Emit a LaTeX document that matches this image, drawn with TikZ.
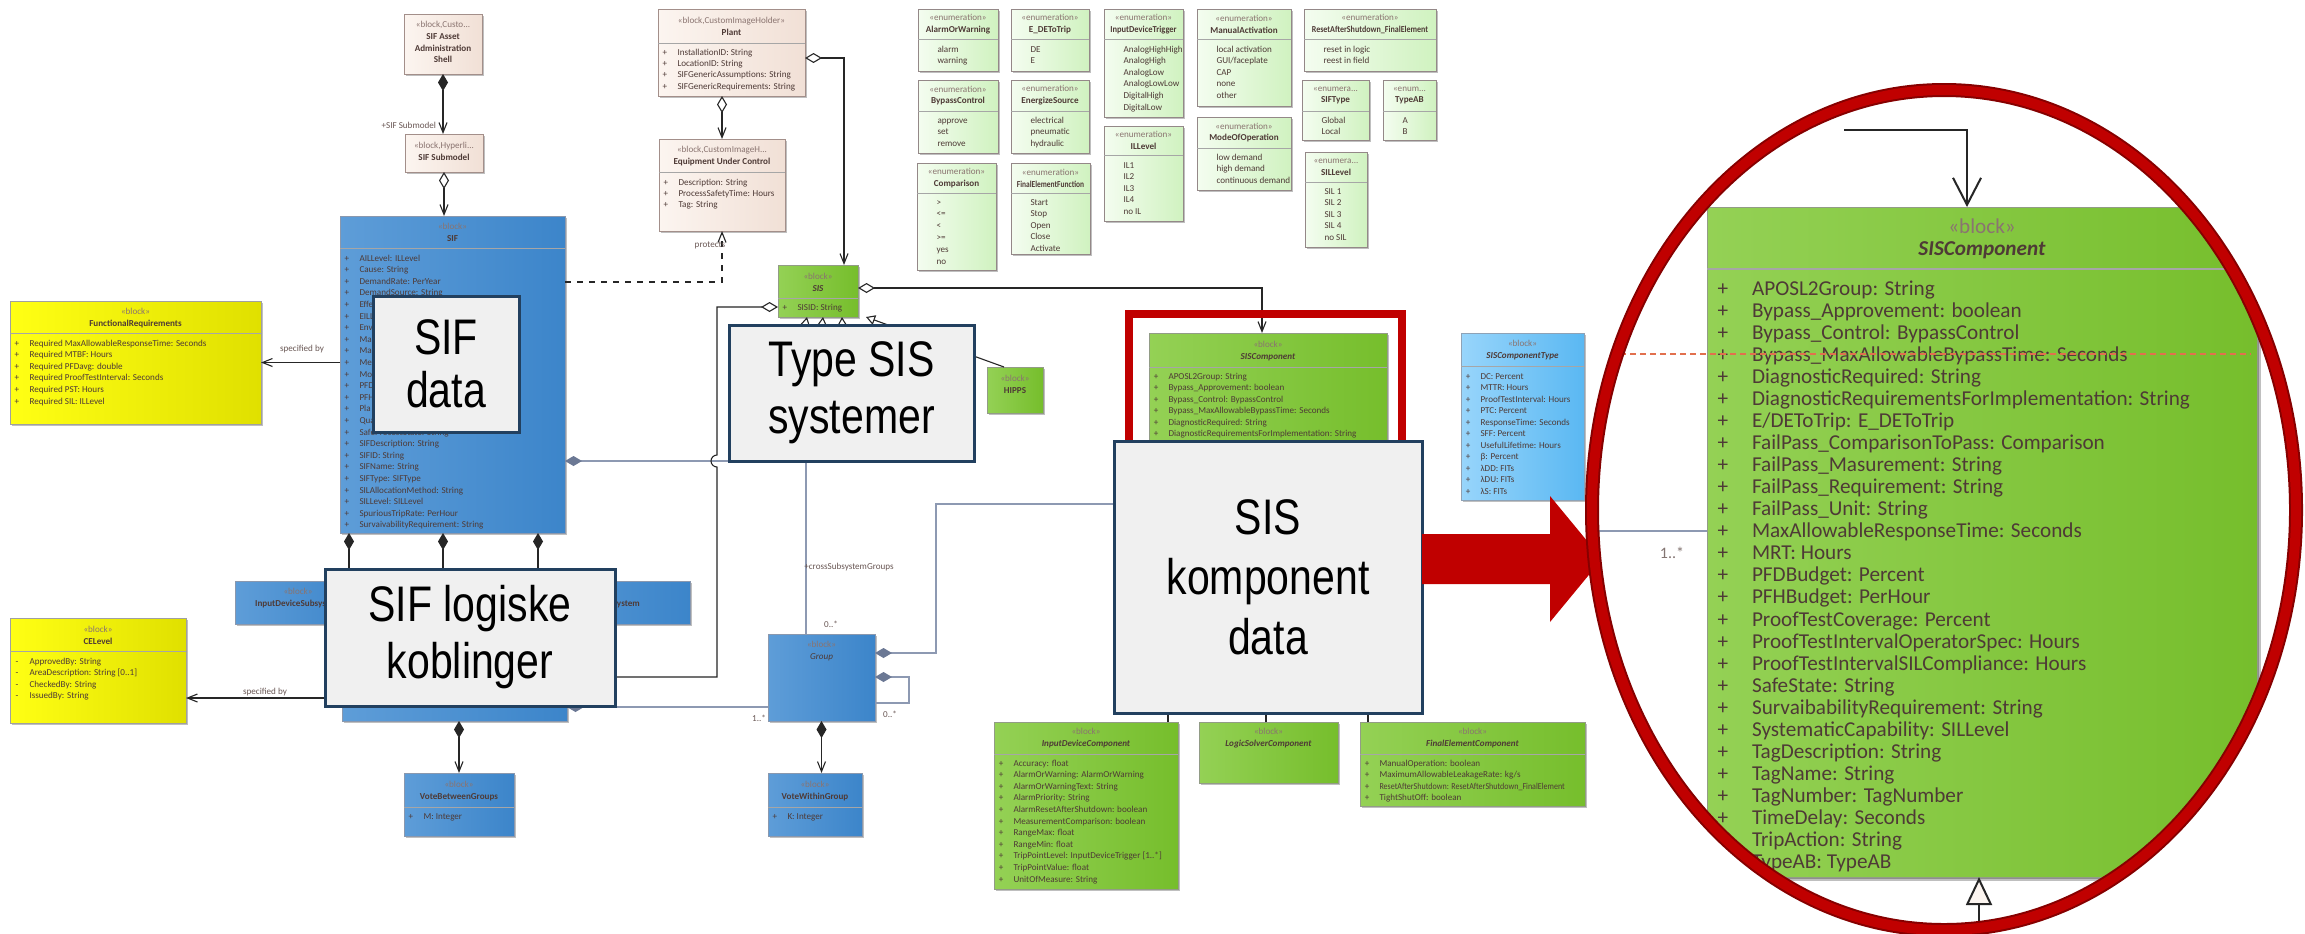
\documentclass[tikz,border=0pt]{standalone}
\usepackage{fontspec}
\setmainfont{Carlito}
\newfontfamily\narrowfont[FakeStretch=0.82]{Liberation Sans}
\usetikzlibrary{fit,calc,arrows.meta,shadows}

\definecolor{beigeL}{HTML}{FCF5F0}
\definecolor{beigeR}{HTML}{F1E0D6}
\definecolor{beigeB}{HTML}{A38F8A}
\definecolor{blueL}{HTML}{5E9DD8}
\definecolor{blueR}{HTML}{3C85CA}
\definecolor{blueB}{HTML}{8A98AE}
\definecolor{greenL}{HTML}{94D155}
\definecolor{greenR}{HTML}{76BE2C}
\definecolor{greenB}{HTML}{929C86}
\definecolor{lgreenL}{HTML}{F4FDF0}
\definecolor{lgreenR}{HTML}{D0F2C0}
\definecolor{lgreenB}{HTML}{948888}
\definecolor{yellowL}{HTML}{FFFF14}
\definecolor{yellowR}{HTML}{E0E000}
\definecolor{yellowB}{HTML}{A0A0A0}
\definecolor{lblueL}{HTML}{98D5FB}
\definecolor{lblueR}{HTML}{5AB8F2}
\definecolor{lblueB}{HTML}{8EA2B6}
\definecolor{txt}{HTML}{4E3A36}
\definecolor{stereo}{HTML}{8A7470}
\definecolor{assoc}{HTML}{8D99B2}
\definecolor{partd}{HTML}{6B7894}
\definecolor{navy}{HTML}{22405F}
\definecolor{calloutfill}{HTML}{F0F0F0}
\definecolor{alert}{HTML}{C00000}
\definecolor{alertdark}{HTML}{860000}
\definecolor{guide}{HTML}{E2704E}

\newcommand\ufont{\fontsize{4.55pt}{5.9pt}\selectfont}
\newcommand\zfont{\fontsize{10.6pt}{11pt}\selectfont}
\newcommand\calloutfont{\narrowfont\fontsize{25pt}{28.5pt}\selectfont}

% block: look, name, x1, y1, x2, y2, header centre y, stereotype, title
\newcommand\umlbox[9]{%
  \node[fit={(#3,#4)(#5,#6)}, #1] (#2) {};
  \node[hdr] (#2-h) at ({(#3+#5)/2},#7) {{\color{stereo}#8}\\#9};
}
% compartment: name, x1, x2, separator y, first row y, row step, marker, rows
\newcommand\attrs[8]{%
  \draw[sepline] (#2,#4) -- (#3,#4);
  \foreach \row [count=\i] in {#8} {
    \node[attr, anchor=base] (#1-m\i) at (#2+7, {#5+(\i-1)*#6+3}) {#7};
    \node[attr, anchor=base west] (#1-a\i) at (#2+19.5, {#5+(\i-1)*#6+3}) {\row};
  }
}

\begin{document}
\begin{tikzpicture}[x=0.5pt, y=-0.5pt,
  every node/.style={inner sep=0pt, outer sep=0pt},
  shadowed/.style={drop shadow={shadow xshift=1.1pt, shadow yshift=-1.1pt, opacity=0.25, fill=black}},
  beigeblock/.style={left color=beigeL, right color=beigeR, draw=beigeB, line width=0.5pt, shadowed},
  blueblock/.style={left color=blueL, right color=blueR, draw=blueB, line width=0.5pt, shadowed},
  greenblock/.style={left color=greenL, right color=greenR, draw=greenB, line width=0.5pt, shadowed},
  enumblock/.style={left color=lgreenL, right color=lgreenR, draw=lgreenB, line width=0.5pt, shadowed},
  yellowblock/.style={left color=yellowL, right color=yellowR, draw=yellowB, line width=0.5pt, shadowed},
  lblueblock/.style={left color=lblueL, right color=lblueR, draw=lblueB, line width=0.5pt, shadowed},
  hdr/.style={align=center, font=\ufont, text=txt},
  attr/.style={font=\ufont, text=txt},
  lbl/.style={font=\ufont, text=txt!85},
  sepline/.style={draw=black!35, line width=0.5pt},
  line/.style={draw=black!85, line width=0.55pt},
  assocline/.style={draw=assoc, line width=0.6pt},
  comp/.style={{Diamond[length=8.5pt,width=5pt]}-{Straight Barb[length=5pt,width=4pt]}},
  agg/.style={{Diamond[length=8.5pt,width=5pt,fill=white]}-{Straight Barb[length=5pt,width=4pt]}},
  aggonly/.style={{Diamond[length=8.5pt,width=5pt,fill=white]}-},
  partstart/.style={{Diamond[length=8.5pt,width=5pt,color=partd]}-},
  nav/.style={-{Straight Barb[length=5pt,width=4pt]}},
  gen/.style={-{Triangle[length=4.5pt,width=5pt,fill=white]}},
  callout/.style={fill=calloutfill, draw=navy, line width=1.5pt},
  callouttext/.style={font=\calloutfont, align=center, text=black}]

\fill[white] (0,0) rectangle (2305,933);
\useasboundingbox (0,0) rectangle (2305,933);

% ---------- asset shell, plant and equipment ----------
\umlbox{beigeblock}{aas}{404}{14}{482}{74}{42}{«block,Custo...}{\textbf{SIF Asset}\\\textbf{Administration}\\\textbf{Shell}}
\umlbox{beigeblock}{submodel}{405}{134}{483}{172}{151}{«block,Hyperli...}{\textbf{SIF Submodel}}
\umlbox{beigeblock}{plant}{658}{9}{805}{96}{26}{«block,CustomImageHolder»}{\textbf{Plant}}
\attrs{plant}{658}{805}{43}{52}{11.4}{+}{InstallationID: String, LocationID: String, SIFGenericAssumptions: String, SIFGenericRequirements: String}
\umlbox{beigeblock}{euc}{659}{139}{785}{231}{156}{«block,CustomImageH...}{\textbf{Equipment Under Control}}
\attrs{euc}{659}{785}{172}{182}{11.2}{+}{Description: String, ProcessSafetyTime: Hours, Tag: String}

% ---------- enumerations ----------
\umlbox{enumblock}{aow}{918}{9}{998}{71}{24}{«enumeration»}{\textbf{AlarmOrWarning}}
\attrs{aow}{918}{998}{39}{49}{11.8}{}{alarm, warning}
\umlbox{enumblock}{dtt}{1011}{9}{1089}{71}{24}{«enumeration»}{\textbf{E\_DEToTrip}}
\attrs{dtt}{1011}{1089}{39}{49}{11.8}{}{DE, E}
\umlbox{enumblock}{idt}{1104}{9}{1183}{117}{24}{«enumeration»}{\scalebox{0.93}[1]{\textbf{InputDeviceTrigger}}}
\attrs{idt}{1104}{1183}{39}{49}{11.6}{}{AnalogHighHigh, AnalogHigh, AnalogLow, AnalogLowLow, DigitalHigh, DigitalLow}
\umlbox{enumblock}{ma}{1197}{9}{1291}{106}{24}{«enumeration»}{\textbf{ManualActivation}}
\attrs{ma}{1197}{1291}{39}{49}{11.6}{}{local activation, GUI/faceplate, CAP, none, other}
\umlbox{enumblock}{ras}{1304}{9}{1436}{71}{24}{«enumeration»}{\scalebox{0.88}[1]{\textbf{ResetAfterShutdown\_FinalElement}}}
\attrs{ras}{1304}{1436}{39}{49}{11.8}{}{reset in logic, reest in field}
\umlbox{enumblock}{bc}{918}{80}{998}{153}{95.5}{«enumeration»}{\textbf{BypassControl}}
\attrs{bc}{918}{998}{111}{120}{11.5}{}{approve, set, remove}
\umlbox{enumblock}{es}{1011}{80}{1089}{153}{95.5}{«enumeration»}{\textbf{EnergizeSource}}
\attrs{es}{1011}{1089}{111}{120}{11.5}{}{electrical, pneumatic, hydraulic}
\umlbox{enumblock}{sift}{1302}{80}{1369}{140}{95.5}{«enumera...}{\textbf{SIFType}}
\attrs{sift}{1302}{1369}{111}{120}{11.5}{}{Global, Local}
\umlbox{enumblock}{tab}{1383}{80}{1436}{140}{95.5}{«enum...}{\textbf{TypeAB}}
\attrs{tab}{1383}{1436}{111}{120}{11.5}{}{A, B}
\umlbox{enumblock}{cmp}{917}{163}{996}{270}{178}{«enumeration»}{\textbf{Comparison}}
\attrs{cmp}{917}{996}{193}{202}{11.8}{}{>, <=, <, >=, yes, no}
\umlbox{enumblock}{fef}{1011}{163}{1090}{254}{178}{«enumeration»}{\scalebox{0.82}[1]{\textbf{FinalElementFunction}}}
\attrs{fef}{1011}{1090}{193}{202}{11.6}{}{Start, Stop, Open, Close, Activate}
\umlbox{enumblock}{ill}{1104}{126}{1183}{221}{140.5}{«enumeration»}{\textbf{ILLevel}}
\attrs{ill}{1104}{1183}{155}{165}{11.6}{}{IL1, IL2, IL3, IL4, no IL}
\umlbox{enumblock}{moo}{1197}{117}{1291}{190}{132.5}{«enumeration»}{\textbf{ModeOfOperation}}
\attrs{moo}{1197}{1291}{148}{157}{11.5}{}{low demand, high demand, continuous demand}
\umlbox{enumblock}{sill}{1305}{152}{1367}{247}{167}{«enumera...}{\textbf{SILLevel}}
\attrs{sill}{1305}{1367}{182}{191}{11.5}{}{SIL 1, SIL 2, SIL 3, SIL 4, no SIL}

% ---------- SIF and its parts ----------
\umlbox{blueblock}{sif}{340}{216}{565}{533}{232}{«block»}{\textbf{SIF}}
\attrs{sif}{340}{565}{248}{258}{11.6}{+}{AILLevel: ILLevel, Cause: String, DemandRate: PerYear, DemandSource: String, Effe, EILL, Envi, Ma, Ma, Mea, Mod, PFD, PFH, Pla, Qua, SafeProcessState: String, SIFDescription: String, SIFID: String, SIFName: String, SIFType: SIFType, SILAllocationMethod: String, SILLevel: SILLevel, SpuriousTripRate: PerHour, SurvaivabilityRequirement: String}

\umlbox{yellowblock}{fr}{10}{301}{261}{424}{318}{«block»}{\textbf{FunctionalRequirements}}
\attrs{fr}{10}{261}{333}{343}{11.6}{+}{Required MaxAllowableResponseTime: Seconds, Required MTBF: Hours, Required PFDavg: double, Required ProofTestInterval: Seconds, Required PST: Hours, Required SIL: ILLevel}
\umlbox{yellowblock}{ce}{10}{618}{186}{723}{635}{«block»}{\textbf{CELevel}}
\attrs{ce}{10}{186}{651}{661}{11.6}{-}{ApprovedBy: String, AreaDescription: String [0..1], CheckedBy: String, IssuedBy: String}

\umlbox{blueblock}{ids}{235}{581}{361}{624}{598}{«block»}{\textbf{InputDeviceSubsystem}}
\node[blueblock, fit={(380,581)(480,624)}] (lss) {};
\umlbox{blueblock}{fes}{500}{581}{690}{624}{598}{«block»}{\textbf{FinalElementSubsystem}}
\node[blueblock, fit={(342,640)(567,721)}] (subsys) {};
\umlbox{blueblock}{vbg}{404}{773}{514}{836}{791}{«block»}{\textbf{VoteBetweenGroups}}
\attrs{vbg}{404}{514}{807}{816}{11.6}{+}{M: Integer}
\umlbox{blueblock}{grp}{768}{634}{875}{721}{651}{«block»}{\textit{Group}}
\umlbox{blueblock}{vwg}{768}{773}{862}{836}{791}{«block»}{\textbf{VoteWithinGroup}}
\attrs{vwg}{768}{862}{807}{816}{11.6}{+}{K: Integer}

% ---------- SIS and components ----------
\umlbox{greenblock}{sis}{778}{265}{858}{317}{282}{«block»}{\textbf{\textit{SIS}}}
\attrs{sis}{778}{858}{298}{307}{11.6}{+}{SISID: String}
\umlbox{greenblock}{hipps}{987}{367}{1043}{413}{384}{«block»}{\textbf{HIPPS}}
\umlbox{greenblock}{sisc}{1149}{333}{1387}{690}{351}{«block»}{\textbf{\textit{SISComponent}}}
\attrs{sisc}{1149}{1387}{367}{376}{11.5}{+}{APOSL2Group: String, Bypass\_Approvement: boolean, Bypass\_Control: BypassControl, Bypass\_MaxAllowableBypassTime: Seconds, DiagnosticRequired: String, DiagnosticRequirementsForImplementation: String}
\umlbox{lblueblock}{sisct}{1461}{333}{1584}{500}{350}{«block»}{\textbf{\textit{SISComponentType}}}
\attrs{sisct}{1461}{1584}{366}{376}{11.5}{+}{DC: Percent, MTTR: Hours, ProofTestInterval: Hours, PTC: Percent, ResponseTime: Seconds, SFF: Percent, UsefulLifetime: Hours, β: Percent, λDD: FITs, λDU: FITs, λS: FITs}
\umlbox{greenblock}{idc}{994}{722}{1178}{889}{738}{«block»}{\textbf{\textit{InputDeviceComponent}}}
\attrs{idc}{994}{1178}{754}{763}{11.6}{+}{Accuracy: float, AlarmOrWarning: AlarmOrWarning, AlarmOrWarningText: String, AlarmPriority: String, AlarmResetAfterShutdown: boolean, MeasurementComparison: boolean, RangeMax: float, RangeMin: float, TripPointLevel: InputDeviceTrigger [1..*], TripPointValue: float, UnitOfMeasure: String}
\umlbox{greenblock}{lsc}{1199}{722}{1338}{783}{738}{«block»}{\textbf{\textit{LogicSolverComponent}}}
\umlbox{greenblock}{fec}{1360}{722}{1585}{806}{738}{«block»}{\textbf{\textit{FinalElementComponent}}}
\attrs{fec}{1360}{1585}{754}{763}{11.6}{+}{ManualOperation: boolean, MaximumAllowableLeakageRate: kg/s, \scalebox{0.88}[1]{ResetAfterShutdown: ResetAfterShutdown\_FinalElement}, TightShutOff: boolean}

% ---------- connectors ----------
\draw[line, comp] (aas.south) -- (aas.south |- submodel.north);
\node[lbl, anchor=east] (lbl-submodel) at ($(submodel.north)+(-8,-9)$) {+SIF Submodel};
\draw[line, agg] (submodel.south) -- (submodel.south |- sif.north);
\draw[line, agg] (plant.south -| euc.north) -- (euc.north);
\coordinate (plant-r) at ($(plant.north east)+(0,49)$);
\coordinate (sis-t) at ($(sis.north west)+(66,0)$);
\draw[line, agg] (plant-r) -| (sis-t);

\coordinate (sif-p) at ($(sif.north east)+(0,66)$);
\draw[line, dashed, nav] (sif-p) -| (euc.south);
\node[lbl] (lbl-protects) at ($(euc.south)+(-12,14)$) {protects};

\draw[line, nav] (fr.east -| sif.west) -- (fr.east);
\node[lbl] (lbl-spec1) at ($(fr.east)+(41,-13)$) {specified by};
\coordinate (ce-p) at ($(ce.north east)+(0,80)$);
\draw[line, nav] (ce-p -| subsys.west) -- (ce-p);
\node[lbl] (lbl-spec2) at ($(ce-p)+(79,-6)$) {specified by};

\foreach \dx/\tgt in {9/ids, 103/lss, 198/fes} {
  \coordinate (sif-b) at ($(sif.south west)+(\dx,0)$);
  \draw[line, comp] (sif-b) -- (sif-b |- \tgt.north);
}
\draw[line, comp] (vbg.north |- subsys.south) -- (vbg.north);
\coordinate (subsys-r) at ($(subsys.south east)+(0,-14)$);
\draw[assocline, partstart] (subsys-r) -- (subsys-r -| grp.west);
\node[lbl] (lbl-m1) at ($(grp.south west)+(-9,-3)$) {1..*};

\coordinate (sif-r) at ($(sif.south east)+(0,-72)$);
\coordinate (grp-t) at ($(grp.north west)+(38,0)$);
\draw[assocline, partstart] (sif-r) -| (grp-t);
\node[lbl] (lbl-cross) at ($(grp-t)+(43,-67)$) {+crossSubsystemGroups};
\node[lbl] (lbl-m2) at ($(grp-t)+(25,-10)$) {0..*};

\coordinate (sis-l) at ($(sis.north west)+(0,42)$);
\coordinate (subsys-m) at ($(subsys.north east)+(0,37)$);
\draw[line, aggonly] (sis-l) -- ++(-61,0) coordinate (j1) -- ($(j1 |- sif-r)+(0,-6)$)
  arc[start angle=90, end angle=270, radius=3pt] -- (j1 |- subsys-m) -- (subsys-m);

\coordinate (sis-r) at ($(sis.north east)+(0,23)$);
\coordinate (sisc-t) at ($(sisc.north west)+(113,0)$);
\draw[line, agg] (sis-r) -| (sisc-t);

\coordinate (grp-r1) at ($(grp.north east)+(0,19)$);
\coordinate (sisc-l) at ($(sisc.north west)+(0,171)$);
\draw[assocline, partstart] (grp-r1) -- ++(61,0) |- (sisc-l);
\coordinate (grp-r2) at ($(grp.north east)+(0,43)$);
\draw[assocline, partstart] (grp-r2) -- ++(34,0) -- ++(0,26) -- ++(-34,0);
\node[lbl] (lbl-m3) at ($(grp.south east)+(15,-7)$) {0..*};
\draw[line, comp] (grp.south) -- (grp.south |- vwg.north);

\draw[line, gen] ($(hipps.north west)+(17,0)$) -- ($(sis.south east)+(8,0)$);
\coordinate (g1) at (785,420);
\coordinate (g2) at (812,420);
\coordinate (g3) at (845,420);
\draw[line, gen] (g1) -- ($(sis.south west)+(29,0)$);
\draw[line, gen] (g2) -- ($(sis.south west)+(45,0)$);
\draw[line, gen] (g3) -- ($(sis.south west)+(64,0)$);

\coordinate (idc-t) at ($(idc.north west)+(174,0)$);
\coordinate (lsc-t) at ($(lsc.north west)+(67,0)$);
\coordinate (fec-t) at ($(fec.north west)+(8,0)$);
\draw[line, gen] (idc-t) -- (idc-t |- sisc.south);
\draw[line, gen] (lsc-t) -- (lsc-t |- sisc.south);
\draw[line, gen] (fec-t) -- (fec-t |- sisc.south);

% highlight frame round the component block
\draw[alert, line width=4pt] (1129,314) rectangle (1402,700);

% ---------- callout boxes ----------
\node[callout, fit={(373,296)(519,432)}] (sifdata) {};
\node[callouttext, font=\narrowfont\fontsize{25pt}{26.5pt}\selectfont] (sifdata-t) at (sifdata.center) {SIF\\data};
\node[callout, fit={(729,325)(974,461)}] (typesis) {};
\node[callouttext] (typesis-t) at (typesis.center) {Type SIS\\systemer};
\node[callout, fit={(325,569)(615,706)}] (logic) {};
\node[callouttext] (logic-t) at (logic.center) {SIF logiske\\koblinger};
\node[callout, fit={(1114,441)(1422,713)}] (kompdata) {};
\node[callouttext, font=\narrowfont\fontsize{25pt}{30pt}\selectfont] (kompdata-t) at (kompdata.center) {SIS\\komponent\\data};

% ---------- pointer to the enlarged view ----------
\fill[alert] (1422,534) -- (1550,534) -- (1550,496) -- (1602,559) -- (1550,622) -- (1550,584) -- (1422,584) -- cycle;

% ---------- enlarged component block ----------
\begin{scope}
  \clip (1944,510) ellipse [x radius=176pt, y radius=210pt];
  \fill[white] (1944,510) ellipse [x radius=176pt, y radius=210pt];
  \node[greenblock, drop shadow={shadow xshift=2pt, shadow yshift=-2pt, opacity=0.25, fill=black}, fit={(1707,207)(2257,877)}] (bigc) {};
  \node[hdr, font=\zfont] (bigc-h) at (1982,239) {{\color{stereo}«block»}\\\textbf{\textit{SISComponent}}};
  \draw[sepline, line width=1pt] (1707,269) -- (2257,269);
  \foreach \row [count=\i] in {APOSL2Group: String, Bypass\_Approvement: boolean, Bypass\_Control: BypassControl, Bypass\_MaxAllowableBypassTime: Seconds, DiagnosticRequired: String, DiagnosticRequirementsForImplementation: String, E/DEToTrip: E\_DEToTrip, FailPass\_ComparisonToPass: Comparison, FailPass\_Masurement: String, FailPass\_Requirement: String, FailPass\_Unit: String, MaxAllowableResponseTime: Seconds, MRT: Hours, PFDBudget: Percent, PFHBudget: PerHour, ProofTestCoverage: Percent, ProofTestIntervalOperatorSpec: Hours, ProofTestIntervalSILCompliance: Hours, SafeState: String, SurvaibabilityRequirement: String, SystematicCapability: SILLevel, TagDescription: String, TagName: String, TagNumber: TagNumber, TimeDelay: Seconds, TripAction: String, TypeAB: TypeAB} {
    \node[attr, font=\zfont, anchor=base] (bigc-m\i) at (1723, {288+(\i-1)*22.07+7}) {+};
    \node[attr, font=\zfont, anchor=base west] (bigc-a\i) at (1752, {288+(\i-1)*22.07+7}) {\row};
  }
  \draw[guide, line width=0.6pt, dash pattern=on 3pt off 2pt] (1580,354) -- (2251,354);
  \coordinate (big-in) at (1844,130);
  \draw[draw=black!85, line width=1pt, -{Straight Barb[length=13.5pt,width=14pt]}] (big-in) -| ($(bigc.north west)+(260,0)$);
  \coordinate (big-left) at (1580,531);
  \draw[assocline, line width=1pt] (big-left) -- (big-left -| bigc.west);
  \node[font=\fontsize{8pt}{9pt}\selectfont, text=txt!70] (big-m) at (1672,553) {1..*};
  \coordinate (big-bot) at (1979,945);
  \draw[draw=black!85, line width=1pt, -{Triangle[length=14pt,width=13pt,fill=beigeL]}] (big-bot) -- ($(bigc.south west)+(272,0)$);
\end{scope}
\draw[alertdark, line width=7pt] (1944,510) ellipse [x radius=176pt, y radius=210pt];
\draw[alert, line width=5pt] (1944,510) ellipse [x radius=176pt, y radius=210pt];
\end{tikzpicture}
\end{document}
